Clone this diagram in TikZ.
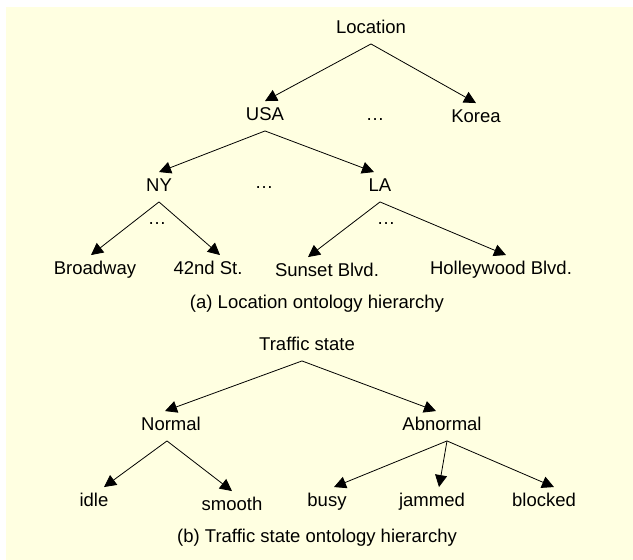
\documentclass[tikz,border=0pt]{standalone}
\usepackage{fontspec}
\setmainfont{Liberation Sans}
\usepackage{tikz}
\usetikzlibrary{arrows.meta,positioning}
\definecolor{paper}{HTML}{FFFFE1}
\tikzset{
  term/.style={font=\fontsize{18.5}{22}\selectfont, text height=13.5pt, text depth=4pt, inner sep=6pt},
  more/.style={font=\fontsize{18.5}{22}\selectfont, inner sep=0pt},
  isa/.style={-{Triangle[length=12pt,width=12pt]}, line width=0.8pt},
}

\begin{document}
\begin{tikzpicture}[x=1pt,y=-1pt]
\useasboundingbox (0,0) rectangle (633,560);
\fill[paper] (6,7) rectangle (633,560);
% (a) Location hierarchy
\node[term] (loc) at (371,29) {Location};
\node[term] (usa) at (265,116) {USA};
\node[term] (kor) at (476,118) {Korea};
\node[term] (ny) at (159,187) {NY};
\node[term] (la) at (380,187) {LA};
\node[term] (bway) at (95,270) {Broadway};
\node[term] (st42) at (208,270) {42nd St.};
\node[term] (sunset) at (327,272) {Sunset Blvd.};
\node[term] (holly) at (501,270) {Holleywood Blvd.};
\foreach \n/\p in {dA/{(375,120)}, dB/{(264,188)}, dC/{(157,224)}, dD/{(386,224)}} {
  \node[more] (\n) at \p {…};
}
\draw[isa] (loc.south) -- (usa.north);
\draw[isa] (loc.south) -- (kor.north);
\draw[isa] (usa.south) -- (ny.north);
\draw[isa] (usa.south) -- ([xshift=-6pt]la.north);
\draw[isa] (ny.south) -- ([xshift=-4pt]bway.north);
\draw[isa] (ny.south) -- ([xshift=12pt]st42.north);
\draw[isa] (la.south) -- ([xshift=-19pt]sunset.north);
\draw[isa] (la.south) -- ([xshift=5pt]holly.north);
\node[term] (capa) at (317,304) {(a) Location ontology hierarchy};
% (b) Traffic state hierarchy
\node[term] (ts) at (307,346) {Traffic state};
\node[term] (norm) at (171,426) {Normal};
\node[term] (abn) at (442,426) {Abnormal};
\node[term] (idle) at (94,502) {idle};
\node[term] (smooth) at (232,506) {smooth};
\node[term] (busy) at (327,502) {busy};
\node[term] (jam) at (432,502) {jammed};
\node[term] (block) at (544,502) {blocked};
\draw[isa] ([xshift=-5pt]ts.south) -- ([xshift=-6pt]norm.north);
\draw[isa] ([xshift=-5pt]ts.south) -- ([xshift=-6pt]abn.north);
\draw[isa] ([xshift=-4pt]norm.south) -- ([xshift=10pt]idle.north);
\draw[isa] ([xshift=-4pt]norm.south) -- (smooth.north);
\draw[isa] ([xshift=5pt]abn.south) -- ([xshift=7pt]busy.north);
\draw[isa] ([xshift=5pt]abn.south) -- ([xshift=7pt]jam.north);
\draw[isa] ([xshift=5pt]abn.south) -- ([xshift=10pt]block.north);
\node[term] (capb) at (317,538) {(b) Traffic state ontology hierarchy};
\end{tikzpicture}
\end{document}
